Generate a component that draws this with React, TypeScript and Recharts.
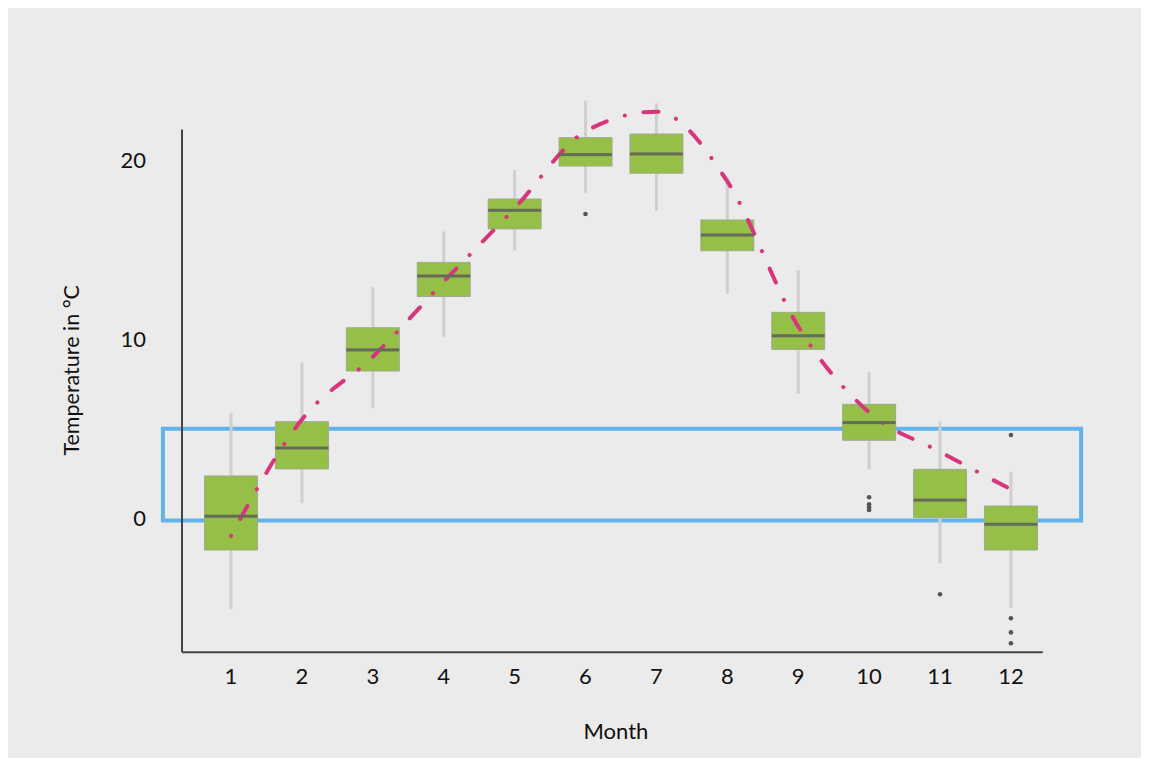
import React from "react";
import {
  ComposedChart,
  Bar,
  Line,
  Scatter,
  XAxis,
  YAxis,
  ReferenceLine,
  ReferenceArea,
} from "recharts";

const months = [1, 2, 3, 4, 5, 6, 7, 8, 9, 10, 11, 12];
const whiskerLow = [-5.08, 0.82, 6.13, 10.13, 14.95, 18.17, 17.15, 12.51, 6.93, 2.72, -2.53, -5.01];
const q1 = [-1.79, 2.74, 8.21, 12.37, 16.15, 19.66, 19.26, 14.93, 9.42, 4.34, 0.02, -1.79];
const medians = [0.1, 3.91, 9.39, 13.52, 17.19, 20.3, 20.34, 15.81, 10.18, 5.33, 1.0, -0.35];
const q3 = [2.35, 5.38, 10.63, 14.28, 17.82, 21.25, 21.45, 16.65, 11.49, 6.35, 2.72, 0.67];
const whiskerHigh = [5.87, 8.68, 12.89, 16.0, 19.44, 23.31, 23.17, 19.03, 13.85, 8.14, 5.38, 2.59];
const meanLine = [-1.0, 5.5, 9.0, 13.2, 17.3, 21.6, 22.7, 18.8, 10.7, 5.9, 3.7, 1.6];

const outlierMonths = [6, 10, 10, 10, 10, 11, 12, 12, 12, 12];
const outlierValues = [16.98, 1.16, 0.77, 0.6, 0.45, -4.26, 4.64, -5.6, -6.39, -7.0];

const yTicks = [0, 10, 20];
const xDomain: [number, number] = [0, 13];
const yDomain: [number, number] = [-7.5, 24];
const axisX = 0.309;
const axisXEnd = 12.45;
const axisYTop = 21.7;
const highlight = { x1: 0.04, x2: 12.99, y1: -0.14, y2: 4.98 };

const data = months.map((m, i) => ({
  month: m,
  whisker: [whiskerLow[i], whiskerHigh[i]],
  box: [q1[i], q3[i]],
  median: medians[i],
  mean: meanLine[i],
}));

const outliers = outlierMonths.map((m, i) => ({ month: m, value: outlierValues[i] }));

const BOX_W = 53;
const FONT = "Lato, 'Noto Sans', sans-serif";

const MedianShape = (props: any) => {
  const { cx, cy } = props;
  if (cx == null || cy == null) return null;
  return <rect x={cx - BOX_W / 2} y={cy - 1.5} width={BOX_W} height={3} fill="#646b58" />;
};

const OutlierShape = (props: any) => {
  const { cx, cy } = props;
  if (cx == null || cy == null) return null;
  return <circle cx={cx} cy={cy} r={2.3} fill="#555555" />;
};

export default function App() {
  return (
    <div style={{ width: 1133, height: 750, background: "#ebebeb", fontFamily: FONT }}>
      <ComposedChart
        width={1133}
        height={750}
        data={data}
        margin={{ top: 80.4, right: 59.2, left: 92.1, bottom: 65.75 }}
      >
        <XAxis
          xAxisId="main"
          type="number"
          dataKey="month"
          domain={xDomain}
          ticks={months}
          axisLine={false}
          tickLine={false}
          tickSize={6}
          tickMargin={10}
          height={40}
          tick={{ fill: "#111", fontSize: 22, fontFamily: FONT }}
          label={{ value: "Month", position: "center", dx: -5, dy: 59, fill: "#111", fontSize: 22, fontFamily: FONT }}
        />
        <XAxis xAxisId="wh" type="number" dataKey="month" domain={xDomain} orientation="top" height={0} hide />
        <XAxis xAxisId="bx" type="number" dataKey="month" domain={xDomain} orientation="top" height={0} hide />
        <YAxis
          type="number"
          domain={yDomain}
          ticks={yTicks}
          allowDataOverflow
          axisLine={false}
          tickLine={false}
          tickSize={6}
          tickMargin={8}
          width={60}
          tick={{ fill: "#111", fontSize: 22, fontFamily: FONT }}
          label={{ value: "Temperature in °C", angle: -90, position: "center", dx: -59, fill: "#111", fontSize: 21.5, fontFamily: FONT }}
        />
        <ReferenceLine
          xAxisId="main"
          segment={[{ x: axisX, y: yDomain[0] }, { x: axisX, y: axisYTop }]}
          stroke="#444"
          strokeWidth={2}
        />
        <ReferenceLine
          xAxisId="main"
          segment={[{ x: axisX, y: yDomain[0] }, { x: axisXEnd, y: yDomain[0] }]}
          stroke="#444"
          strokeWidth={2}
        />
        <Bar xAxisId="wh" dataKey="whisker" barSize={3} fill="#cfcfcf" isAnimationActive={false} />
        <Bar xAxisId="bx" dataKey="box" barSize={BOX_W} fill="#95bf46" stroke="#a0ab90" strokeWidth={1} isAnimationActive={false} />
        <Scatter xAxisId="main" dataKey="median" shape={MedianShape} isAnimationActive={false} />
        <Scatter xAxisId="main" data={outliers} dataKey="value" shape={OutlierShape} isAnimationActive={false} />
        <Line
          xAxisId="main"
          type="monotone"
          dataKey="mean"
          stroke="#d8357c"
          strokeWidth={4}
          strokeDasharray="0.1 19 15 19"
          strokeLinecap="round"
          dot={false}
          activeDot={false}
          isAnimationActive={false}
        />
        <ReferenceArea
          xAxisId="main"
          x1={highlight.x1}
          x2={highlight.x2}
          y1={highlight.y1}
          y2={highlight.y2}
          fill="none"
          fillOpacity={0}
          stroke="#62b3ea"
          strokeWidth={4}
          ifOverflow="visible"
        />
      </ComposedChart>
    </div>
  );
}
